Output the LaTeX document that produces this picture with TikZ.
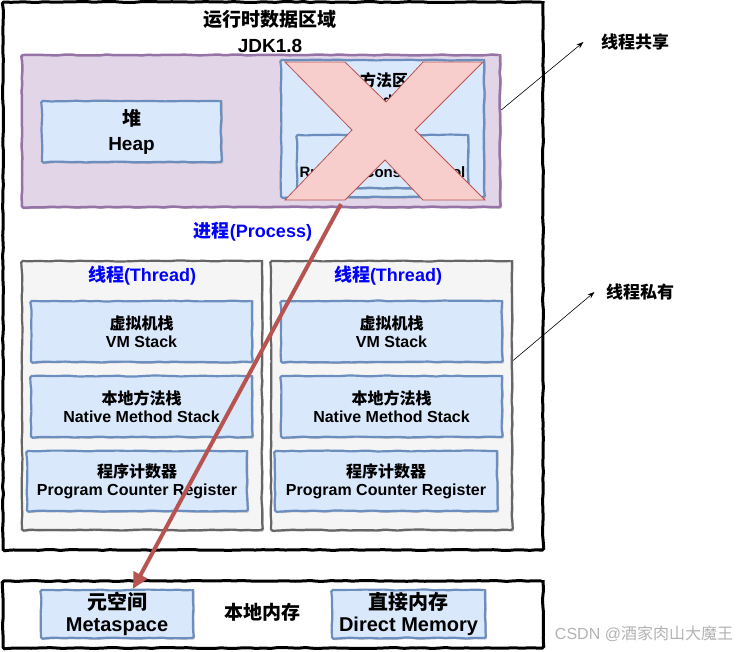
\documentclass[tikz,border=0pt]{standalone}
\usepackage{fontspec}
\setmainfont{Liberation Sans}
\newfontfamily\cjkfont{Noto Sans CJK SC}
\newcommand\zh[1]{{\cjkfont #1}}
\usetikzlibrary{arrows.meta,shadows,decorations.pathmorphing}

\definecolor{blueFill}{HTML}{DAE8FC}
\definecolor{blueDraw}{HTML}{6C8EBF}
\definecolor{purpleFill}{HTML}{E1D5E7}
\definecolor{purpleDraw}{HTML}{9673A6}
\definecolor{greyFill}{HTML}{F5F5F5}
\definecolor{greyDraw}{HTML}{666666}
\definecolor{redFill}{HTML}{F8CECC}
\definecolor{redDraw}{HTML}{B85450}
\definecolor{procBlue}{HTML}{0000FF}

\tikzset{
  sketch/.style={decorate, decoration={random steps, segment length=7pt, amplitude=0.5pt}, rounded corners=1.5pt},
  box/.style={draw, sketch, inner sep=0pt, align=center,
    font=\bfseries\fontsize{16}{18}\selectfont},
  shade/.style={drop shadow={shadow xshift=1.5pt,shadow yshift=-1.5pt,opacity=0.35,fill=black!60}},
  outerbox/.style={box, line width=3pt, draw=black, fill=white},
  purplebox/.style={box, shade, line width=2.5pt, draw=purpleDraw, fill=purpleFill},
  bluebox/.style={box, shade, line width=2.2pt, draw=blueDraw, fill=blueFill},
  threadbox/.style={box, shade, line width=2.2pt, draw=greyDraw, fill=greyFill},
  crossmark/.style={draw=redDraw, fill=redFill, line width=0.8pt},
  bluetext/.style={text=procBlue, font=\bfseries\fontsize{18}{20}\selectfont},
  sidetext/.style={font=\bfseries\fontsize{17}{20}\selectfont},
  thinarrow/.style={-{Stealth[length=7pt,width=5pt]}, line width=0.6pt},
  redarrow/.style={-{Triangle[length=16pt,width=15pt]}, line width=4pt, draw=redDraw, color=redDraw}
}

\begin{document}
\begin{tikzpicture}[x=1pt,y=-1pt]
\pgfmathsetseed{7}
\useasboundingbox (0,0) rectangle (754,651);

% runtime data area
\node[outerbox, minimum width=540pt, minimum height=548pt] (rtda) at (273,276) {};
\node[align=center, font=\bfseries\fontsize{19}{26}\selectfont] (title) at (270,31) {\zh{运行时数据区域}\\JDK1.8};

% shared part
\node[purplebox, minimum width=478pt, minimum height=152pt] (shared) at (261,131) {};
\node[bluebox, minimum width=179pt, minimum height=61pt, font=\bfseries\fontsize{19}{25}\selectfont] (heap) at (131.5,131.5) {\zh{堆}\\Heap};
\node[bluebox, minimum width=203pt, minimum height=137pt] (method) at (382.5,128.5) {};
\node[align=center, font=\bfseries\fontsize{16}{20}\selectfont] (mtext) at (384,90) {\zh{方法区}\\Method Area};
\node[bluebox, minimum width=171pt, minimum height=53pt, font=\bfseries\fontsize{15}{20}\selectfont] (rcp) at (382.5,161.5) {\zh{运行时常量池}\\Runtime Constant Pool};
\draw[crossmark] (285,62) -- (345,62) -- (386,102) -- (423,62) -- (483,62) -- (415,130)
  -- (485,200) -- (423,200) -- (385,160) -- (345,200) -- (285,200) -- (352,130) -- cycle;

\node[bluetext] (process) at (253,232) {\zh{进程}(Process)};

% threads
\node[threadbox, minimum width=240pt, minimum height=269pt] (thread1) at (142,395.5) {};
\node[threadbox, minimum width=241pt, minimum height=269pt] (thread2) at (391.5,395.5) {};
\node[bluetext] (t1title) at (142,276) {\zh{线程}(Thread)};
\node[bluetext] (t2title) at (388,276) {\zh{线程}(Thread)};

\node[bluebox, minimum width=221pt, minimum height=61pt] (vm1) at (141.5,331.5) {\zh{虚拟机栈}\\VM Stack};
\node[bluebox, minimum width=221pt, minimum height=61pt] (vm2) at (391.5,331.5) {\zh{虚拟机栈}\\VM Stack};
\node[bluebox, minimum width=221pt, minimum height=61pt] (nms1) at (141.5,406.5) {\zh{本地方法栈}\\Native Method Stack};
\node[bluebox, minimum width=221pt, minimum height=61pt] (nms2) at (391.5,406.5) {\zh{本地方法栈}\\Native Method Stack};
\node[bluebox, minimum width=220pt, minimum height=60pt] (pc1) at (137,481) {\zh{程序计数器}\\Program Counter Register};
\node[bluebox, minimum width=222pt, minimum height=60pt] (pc2) at (386,481) {\zh{程序计数器}\\Program Counter Register};

% native memory
\node[outerbox, minimum width=540pt, minimum height=67pt] (native) at (273,614.5) {};
\node[bluebox, minimum width=152pt, minimum height=48pt, font=\bfseries\fontsize{20}{22}\selectfont] (meta) at (117,614) {\zh{元空间}\\Metaspace};
\node[font=\bfseries\fontsize{19}{22}\selectfont] (local) at (262,612) {\zh{本地内存}};
\node[bluebox, minimum width=153pt, minimum height=48pt, font=\bfseries\fontsize{20}{22}\selectfont] (direct) at (408.5,614) {\zh{直接内存}\\Direct Memory};

% side labels
\node[sidetext] (sharedlbl) at (635,42) {\zh{线程共享}};
\node[sidetext] (privatelbl) at (640,292) {\zh{线程私有}};
\draw[thinarrow] ([yshift=21pt]shared.east) -- ([xshift=-14pt]sharedlbl.west);
\draw[thinarrow] ([yshift=35pt]thread2.east) -- ([xshift=-8pt]privatelbl.west);

\draw[redarrow] ([xshift=-41.5pt,yshift=-6pt]method.south) -- ([xshift=16pt]meta.north);

\node[text=black!30, font=\fontsize{16}{18}\selectfont] (mark) at (644,634) {CSDN @\zh{酒家肉山大魔王}};
\end{tikzpicture}
\end{document}
